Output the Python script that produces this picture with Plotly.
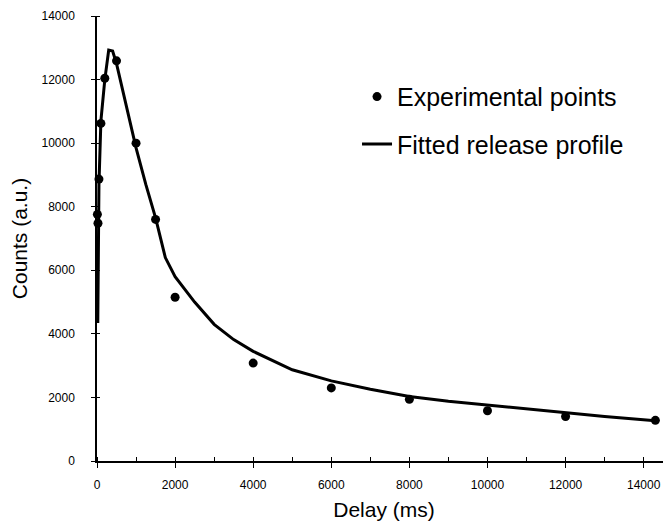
import plotly.graph_objs as go

# Experimental points (delay in ms, counts in a.u.)
delay_exp = [10, 25, 50, 100, 200, 500, 1000, 1500, 2000, 4000, 6000, 8000, 10000, 12000, 14300]
counts_exp = [7760, 7480, 8870, 10620, 12040, 12590, 10000, 7600, 5150, 3080, 2300, 1940, 1580, 1400, 1280]

# Fitted release profile
delay_fit = [20, 50, 100, 200, 300, 400, 500, 750, 1000, 1250, 1500, 1750, 2000, 2500, 3000,
             3500, 4000, 5000, 6000, 7000, 8000, 9000, 10000, 11000, 12000, 13000, 14300]
counts_fit = [4340, 8700, 10700, 12000, 12930, 12900, 12500, 11200, 9850, 8700, 7650, 6400, 5800,
              5000, 4300, 3820, 3450, 2870, 2520, 2260, 2030, 1880, 1760, 1620, 1500, 1400, 1270]

font = 'Liberation Sans, Arial, sans-serif'

data = [
    go.Scatter(x=delay_exp, y=counts_exp, mode='markers', name='Experimental points',
               marker=dict(color='black', size=9), cliponaxis=False, legendgroup='a'),
    go.Scatter(x=delay_fit, y=counts_fit, mode='lines', name='Fitted release profile',
               line=dict(color='black', width=3), cliponaxis=False, legendgroup='b'),
]

# the page body has an 8px margin, so the figure is made 8px smaller
layout = go.Layout(
    width=663, height=517,
    margin=dict(l=89, r=0, t=8, b=64),
    paper_bgcolor='white', plot_bgcolor='white',
    font=dict(family=font, color='black', size=12),
    showlegend=True,
    legend=dict(x=0.453, y=0.87, xanchor='left', yanchor='top', bgcolor='rgba(0,0,0,0)',
                font=dict(size=25), tracegroupgap=12, traceorder='grouped'),
    xaxis=dict(range=[0, 14700], tickvals=[0, 2000, 4000, 6000, 8000, 10000, 12000, 14000],
               tickformat='d', automargin=False,
               showgrid=False, zeroline=False, showline=True, linecolor='black', linewidth=1.5,
               ticks='outside', ticklen=5, tickcolor='black', ticklabelstandoff=7,
               minor=dict(dtick=1000, ticks='inside', ticklen=4, tickcolor='black', showgrid=False),
               title=dict(text='Delay (ms)', font=dict(size=21), standoff=11)),
    yaxis=dict(range=[0, 14000], dtick=2000, tickformat='d', automargin=False,
               showgrid=False, zeroline=False,
               showline=True, linecolor='black', linewidth=1.5,
               ticks='outside', ticklen=4, tickcolor='black', ticklabelstandoff=14,
               minor=dict(dtick=2000, ticks='inside', ticklen=3, tickcolor='black', showgrid=False),
               title=dict(text='Counts (a.u.)', font=dict(size=21), standoff=9)),
)

fig = go.Figure(data=data, layout=layout)
fig.write_html('out.html')
